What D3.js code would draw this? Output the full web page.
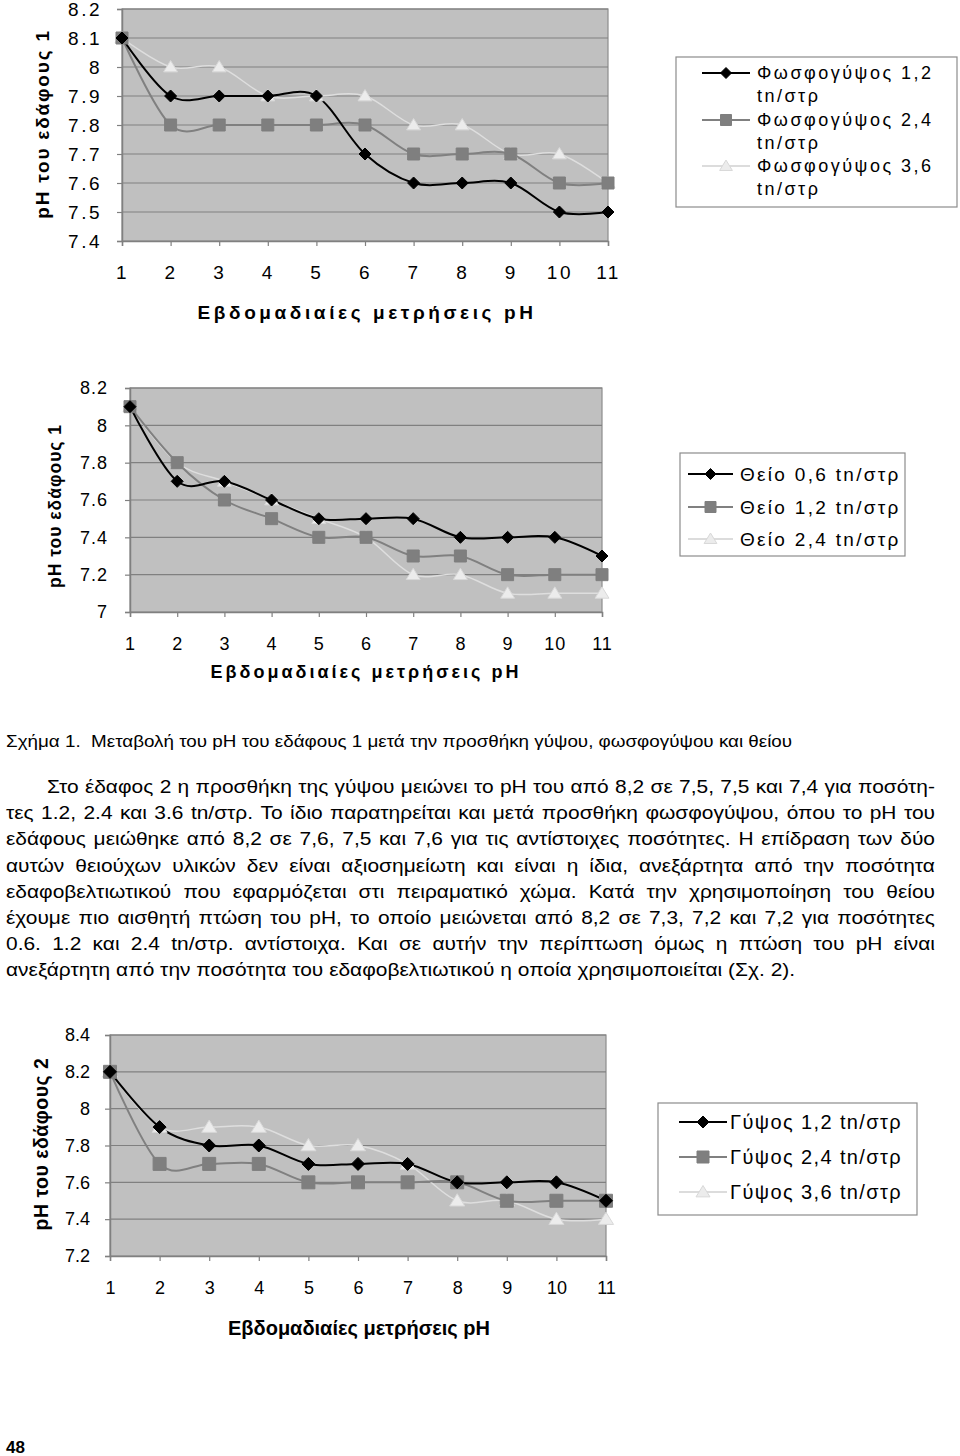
<!DOCTYPE html>
<html>
<head>
<meta charset="utf-8">
<script src="https://cdn.jsdelivr.net/npm/d3@7"></script>
<style>
  html, body { margin: 0; padding: 0; background: #fff; }
  svg { display: block; }
  text { font-family: "Liberation Sans", Arial, sans-serif; fill: #000; }
</style>
</head>
<body>
<svg id="page" width="960" height="1456"></svg>
<script>
// ---------------- DATA ----------------
const weeks = [1, 2, 3, 4, 5, 6, 7, 8, 9, 10, 11];

// Chart 1 – phosphogypsum, soil 1
const phosphoNames = ["Φωσφογύψος 1,2 tn/στρ", "Φωσφογύψος 2,4 tn/στρ", "Φωσφογύψος 3,6 tn/στρ"];
const phospho12 = [8.1, 7.9, 7.9, 7.9, 7.9, 7.7, 7.6, 7.6, 7.6, 7.5, 7.5];
const phospho24 = [8.1, 7.8, 7.8, 7.8, 7.8, 7.8, 7.7, 7.7, 7.7, 7.6, 7.6];
const phospho36 = [8.1, 8.0, 8.0, 7.9, 7.9, 7.9, 7.8, 7.8, 7.7, 7.7, 7.6];
const phosphoTicks = [7.4, 7.5, 7.6, 7.7, 7.8, 7.9, 8.0, 8.1, 8.2];

// Chart 2 – sulphur, soil 1
const sulphurNames = ["Θείο 0,6 tn/στρ", "Θείο 1,2 tn/στρ", "Θείο 2,4 tn/στρ"];
const sulphur06 = [8.1, 7.7, 7.7, 7.6, 7.5, 7.5, 7.5, 7.4, 7.4, 7.4, 7.3];
const sulphur12 = [8.1, 7.8, 7.6, 7.5, 7.4, 7.4, 7.3, 7.3, 7.2, 7.2, 7.2];
const sulphur24 = [8.1, 7.8, 7.7, 7.6, 7.5, 7.4, 7.2, 7.2, 7.1, 7.1, 7.1];
const sulphurTicks = [7.0, 7.2, 7.4, 7.6, 7.8, 8.0, 8.2];

// Chart 3 – gypsum, soil 2
const gypsumNames = ["Γύψος 1,2 tn/στρ", "Γύψος 2,4 tn/στρ", "Γύψος 3,6 tn/στρ"];
const gypsum12 = [8.2, 7.9, 7.8, 7.8, 7.7, 7.7, 7.7, 7.6, 7.6, 7.6, 7.5];
const gypsum24 = [8.2, 7.7, 7.7, 7.7, 7.6, 7.6, 7.6, 7.6, 7.5, 7.5, 7.5];
const gypsum36 = [8.2, 7.9, 7.9, 7.9, 7.8, 7.8, 7.7, 7.5, 7.5, 7.4, 7.4];
const gypsumTicks = [7.2, 7.4, 7.6, 7.8, 8.0, 8.2, 8.4];

const xTitle = "Εβδομαδιαίες μετρήσεις pH";
const yTitle1 = "pH του εδάφους 1";
const yTitle2 = "pH του εδάφους 2";

const caption = "Σχήμα 1.  Μεταβολή του pH του εδάφους 1 μετά την προσθήκη  γύψου, φωσφογύψου και θείου";
const paragraph = [
  "Στο έδαφος 2 η προσθήκη της γύψου μειώνει το pH του από 8,2 σε 7,5, 7,5 και 7,4 για ποσότη-",
  "τες 1.2, 2.4 και 3.6 tn/στρ. Το ίδιο παρατηρείται και μετά προσθήκη φωσφογύψου, όπου το pH του",
  "εδάφους μειώθηκε από 8,2 σε 7,6, 7,5 και 7,6 για τις αντίστοιχες ποσότητες. Η επίδραση των δύο",
  "αυτών θειούχων υλικών δεν είναι αξιοσημείωτη και είναι η ίδια, ανεξάρτητα από την ποσότητα",
  "εδαφοβελτιωτικού που εφαρμόζεται στι πειραματικό χώμα. Κατά την χρησιμοποίηση του θείου",
  "έχουμε πιο αισθητή πτώση του pH, το οποίο μειώνεται από 8,2 σε 7,3, 7,2 και 7,2 για ποσότητες",
  "0.6. 1.2 και 2.4 tn/στρ. αντίστοιχα. Και σε αυτήν την περίπτωση όμως η πτώση του pH είναι",
  "ανεξάρτητη από την ποσότητα του εδαφοβελτιωτικού η οποία χρησιμοποιείται (Σχ. 2)."
];
const pageNumber = "48";

// ---------------- STYLES ----------------
const seriesStyle = [
  { line: "#000000", width: 2, fill: "#000000", stroke: "#000000", marker: "diamond" },
  { line: "#808080", width: 2, fill: "#7f7f7f", stroke: "#7f7f7f", marker: "square" },
  { line: "#dedede", width: 1.5, fill: "#ececec", stroke: "#d8d8d8", marker: "triangle" }
];

const svg = d3.select("#page");

function shapePath(type, s) {
  if (type === "diamond") { const r = s / 2; return `M0,${-r}L${r},0L0,${r}L${-r},0Z`; }
  if (type === "square") return `M${-s/2},${-s/2}h${s}v${s}h${-s}Z`;
  const h = s * 0.9;
  return `M0,${-h*0.6}L${s*0.58},${h*0.45}L${-s*0.58},${h*0.45}Z`;
}
function drawMarker(g, type, x, y, s, st) {
  g.append("path").attr("d", shapePath(type, s)).attr("transform", `translate(${x},${y})`)
    .attr("fill", st.fill).attr("stroke", st.stroke).attr("stroke-width", 1);
}

function drawChart(cfg) {
  const g = svg.append("g");
  const x = d3.scalePoint().domain(weeks).range([cfg.left, cfg.right]);
  const y = d3.scaleLinear().domain([cfg.ticks[0], cfg.ticks[cfg.ticks.length - 1]]).range([cfg.bottom, cfg.top]);

  // plot area
  g.append("rect").attr("x", cfg.left).attr("y", cfg.top)
    .attr("width", cfg.right - cfg.left).attr("height", cfg.bottom - cfg.top)
    .attr("fill", "#c0c0c0").attr("stroke", "#8c8c8c").attr("stroke-width", 1.2);

  // gridlines
  g.selectAll(".grid").data(cfg.ticks.slice(1)).enter().append("line")
    .attr("x1", cfg.left).attr("x2", cfg.right)
    .attr("y1", d => y(d)).attr("y2", d => y(d))
    .attr("stroke", "#808080").attr("stroke-width", 1.2);

  // axes
  const fmt = d => String(+d.toFixed(1));
  const ya = g.append("g").attr("transform", `translate(${cfg.left},0)`)
    .call(d3.axisLeft(y).tickValues(cfg.ticks).tickFormat(fmt).tickSize(5).tickPadding(cfg.yPad));
  const xa = g.append("g").attr("transform", `translate(0,${cfg.bottom})`)
    .call(d3.axisBottom(x).tickSize(5).tickPadding(cfg.xPad));
  [ya, xa].forEach(a => {
    a.select(".domain").attr("stroke", "#808080").attr("stroke-width", 1.5);
    a.selectAll(".tick line").attr("stroke", "#808080").attr("stroke-width", 1.2);
    a.selectAll(".tick text").attr("font-size", cfg.tickFont).attr("fill", "#000")
      .attr("letter-spacing", cfg.tickSpacing)
      .attr("font-family", "'Liberation Sans', Arial, sans-serif");
  });

  // lines + markers
  const line = d3.line().x((d, i) => x(weeks[i])).y(d => y(d)).curve(d3.curveCardinal.tension(0));
  const order = [2, 1, 0];
  order.forEach(k => {
    const st = seriesStyle[k];
    g.append("path").attr("d", line(cfg.series[k])).attr("fill", "none")
      .attr("stroke", st.line).attr("stroke-width", st.width);
  });
  order.forEach(k => {
    const st = seriesStyle[k];
    cfg.series[k].forEach((v, i) => drawMarker(g, st.marker, x(weeks[i]), y(v), cfg.markerSize, st));
  });

  // axis titles
  g.append("text").attr("x", cfg.xTitleX).attr("y", cfg.xTitleY).attr("text-anchor", "middle")
    .attr("font-size", cfg.titleFont).attr("font-weight", "bold").attr("letter-spacing", cfg.titleSpacing)
    .text(xTitle);
  g.append("text").attr("transform", `translate(${cfg.yTitleX},${cfg.yTitleY}) rotate(-90)`)
    .attr("text-anchor", "middle").attr("font-size", cfg.yTitleFont).attr("font-weight", "bold")
    .attr("letter-spacing", cfg.yTitleSpacing).text(cfg.yTitle);

  // legend
  const L = cfg.legend;
  g.append("rect").attr("x", L.x).attr("y", L.y).attr("width", L.w).attr("height", L.h)
    .attr("fill", "#fff").attr("stroke", "#8c8c8c").attr("stroke-width", 1.2);
  cfg.names.forEach((name, k) => {
    const st = seriesStyle[k];
    const cy = L.rows[k];
    g.append("line").attr("x1", L.lx1).attr("x2", L.lx2).attr("y1", cy).attr("y2", cy)
      .attr("stroke", k === 2 ? "#d0d0d0" : st.line).attr("stroke-width", st.width);
    drawMarker(g, st.marker, (L.lx1 + L.lx2) / 2, cy, L.markerSize, st);
    const parts = L.wrap ? [name.replace(/ tn\/στρ$/, ""), "tn/στρ"] : [name];
    const t = g.append("text").attr("x", L.tx).attr("y", cy + L.baseline)
      .attr("font-size", L.font).attr("letter-spacing", L.spacing);
    parts.forEach((p, j) => t.append("tspan").attr("x", L.tx).attr("dy", j === 0 ? 0 : L.lineH).text(p));
  });
}

drawChart({
  left: 122, right: 608, top: 9, bottom: 241, ticks: phosphoTicks,
  series: [phospho12, phospho24, phospho36], names: phosphoNames,
  tickFont: 19, tickSpacing: 2.5, yPad: 15, xPad: 20, markerSize: 12,
  titleFont: 19, titleSpacing: 3.6, xTitleX: 367, xTitleY: 319,
  yTitle: yTitle1, yTitleFont: 19, yTitleSpacing: 1.8, yTitleX: 49, yTitleY: 124,
  legend: { x: 676, y: 57, w: 281, h: 150, rows: [73, 120, 166], lx1: 702, lx2: 750,
            tx: 757, font: 18, spacing: 2.5, baseline: 6, lineH: 23, wrap: true, markerSize: 11 }
});

drawChart({
  left: 130, right: 602, top: 388, bottom: 612, ticks: sulphurTicks,
  series: [sulphur06, sulphur12, sulphur24], names: sulphurNames,
  tickFont: 18, tickSpacing: 1, yPad: 17, xPad: 20, markerSize: 12,
  titleFont: 18, titleSpacing: 3, xTitleX: 366, xTitleY: 678,
  yTitle: yTitle1, yTitleFont: 17.5, yTitleSpacing: 1, yTitleX: 61, yTitleY: 506,
  legend: { x: 680, y: 453, w: 225, h: 103, rows: [474, 507, 539], lx1: 688, lx2: 733,
            tx: 740, font: 19, spacing: 2.3, baseline: 7, lineH: 0, wrap: false, markerSize: 11 }
});

drawChart({
  left: 110, right: 606, top: 1035, bottom: 1256, ticks: gypsumTicks,
  series: [gypsum12, gypsum24, gypsum36], names: gypsumNames,
  tickFont: 18, tickSpacing: 0, yPad: 15, xPad: 20, markerSize: 13,
  titleFont: 20, titleSpacing: 0, xTitleX: 359, xTitleY: 1335,
  yTitle: yTitle2, yTitleFont: 19.5, yTitleSpacing: 0.5, yTitleX: 48, yTitleY: 1144,
  legend: { x: 658, y: 1103, w: 259, h: 112, rows: [1122, 1157, 1192], lx1: 679, lx2: 727,
            tx: 730, font: 20, spacing: 1.4, baseline: 7, lineH: 0, wrap: false, markerSize: 12 }
});

// ---------------- TEXT ----------------
const measurer = svg.append("text").attr("visibility", "hidden");
function textWidth(s, size) {
  measurer.attr("font-size", size).text(s);
  return measurer.node().getComputedTextLength();
}

// caption, stretched horizontally to match the printed page
const capFont = 16.5, capRight = 793;
const capSx = (capRight - 6) / textWidth(caption.replace("  ", " \u00a0"), capFont);
svg.append("text").attr("transform", `translate(6,747) scale(${capSx},1)`)
  .attr("font-size", capFont).text(caption.replace("  ", " \u00a0"));

// justified paragraph
const pLeft = 6, pRight = 935, pFont = 18, pLastRight = 795;
const lastLn = paragraph[paragraph.length - 1];
const pSx = (pLastRight - pLeft) / textWidth(lastLn, pFont);
paragraph.forEach((ln, i) => {
  const yb = 793 + i * 26.2;
  const start = i === 0 ? 47 : pLeft;
  const words = ln.split(" ");
  const widths = words.map(w => textWidth(w, pFont) * pSx);
  const justify = i < paragraph.length - 1;
  const gap = justify ? (pRight - start - d3.sum(widths)) / (words.length - 1)
                      : textWidth("a b", pFont) * pSx - textWidth("ab", pFont) * pSx;
  const t = svg.append("text").attr("transform", `translate(0,${yb}) scale(${pSx},1)`).attr("font-size", pFont);
  let xx = start;
  words.forEach((w, j) => {
    t.append("tspan").attr("x", xx / pSx).text(w + (j < words.length - 1 ? " " : ""));
    xx += widths[j] + gap;
  });
});
measurer.remove();

svg.append("text").attr("x", 6).attr("y", 1453).attr("font-size", 17).attr("font-weight", "bold").text(pageNumber);
</script>
</body>
</html>
